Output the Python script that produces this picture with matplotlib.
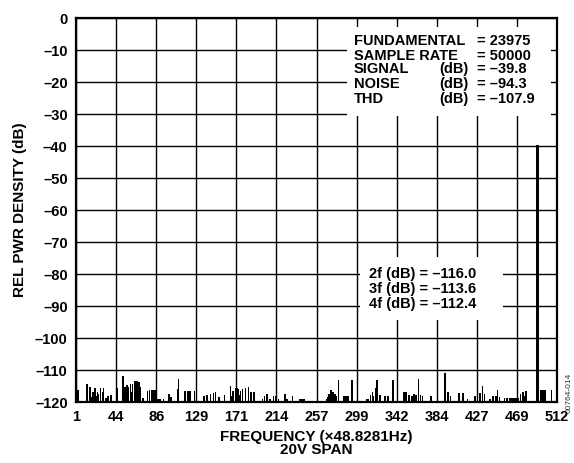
import numpy as np
import matplotlib
matplotlib.use("Agg")
import matplotlib.pyplot as plt
from matplotlib.patches import Rectangle

plt.rcParams["font.family"] = ["Liberation Sans", "DejaVu Sans"]
plt.rcParams["font.weight"] = "bold"

# FFT bins (x48.8281 Hz) and level in dB of the noise floor spurs
noise_bins = [3, 12, 13, 16, 17, 19, 21, 22, 24, 25, 27, 29, 30, 33, 35, 38, 45,
              51, 52, 53, 55, 57, 59, 60, 61, 63, 64, 66, 68, 69, 72, 77, 79, 81,
              83, 85, 88, 90, 94, 100, 102, 109, 110, 117, 120, 122, 127, 137, 140,
              144, 147, 149, 153, 159, 165, 166, 168, 171, 172, 173, 175, 176, 178,
              181, 184, 187, 190, 199, 201, 204, 207, 211, 213, 216, 223, 225, 231,
              239, 240, 241, 242, 243, 244, 267, 268, 270, 272, 274, 276, 277, 280,
              285, 286, 288, 290, 294, 310, 312, 314, 316, 317, 319, 321, 324, 329,
              330, 332, 333, 338, 349, 350, 351, 352, 355, 358, 360, 362, 365, 367,
              369, 378, 393, 396, 399, 408, 412, 417, 425, 430, 433, 435, 441, 444,
              447, 449, 451, 456, 459, 462, 463, 464, 465, 466, 467, 468, 469, 470,
              471, 473, 476, 477, 479, 495, 496, 497, 498, 499, 506]
noise_db = [-116.3, -114.5, -114.5, -115.2, -118.5, -116.8, -115.7, -118.0, -116.8,
            -117.5, -115.7, -116.8, -115.5, -118.6, -118.2, -117.8, -115.7,
            -111.8, -118.0, -115.2, -114.7, -115.2, -114.5, -117.0, -114.5, -113.4,
            -113.4, -113.4, -113.6, -115.2, -118.8, -116.6, -116.2, -116.2,
            -116.2, -116.2, -118.9, -118.9, -118.9, -117.5, -118.3, -116.0, -112.8,
            -116.6, -116.6, -116.6, -116.6, -118.0, -117.8,
            -117.6, -117.3, -116.8, -118.3, -117.8, -115.0, -118.2, -116.6, -115.7,
            -115.5, -116.0, -117.8, -116.6, -116.0,
            -115.7, -115.3, -116.8, -117.0, -118.9, -118.0, -117.5, -118.9, -118.0,
            -118.0, -118.9, -117.5, -118.9, -118.0,
            -119.1, -119.1, -119.1, -119.1, -119.1, -119.1, -119.1, -118.5, -117.6,
            -116.3, -117.0, -117.6, -118.0, -113.1,
            -118.0, -118.0, -118.0, -118.0, -113.1, -118.9, -118.9, -117.8, -116.8,
            -118.0, -115.7, -113.1, -117.8, -118.0,
            -118.0, -118.0, -118.0, -113.1, -116.8, -116.8, -116.8, -116.8, -117.8,
            -118.0, -117.6, -117.8, -112.8, -117.8,
            -118.0, -118.0, -110.8, -116.8, -118.0, -117.3, -117.3, -119.1, -118.0,
            -117.3, -115.1, -117.6, -119.1, -118.0,
            -118.0, -116.3, -118.4, -118.7, -118.7, -118.7, -118.7, -118.7, -118.7,
            -118.7, -118.7, -118.7, -118.7, -118.7,
            -118.7, -117.6, -116.8, -118.0, -116.6, -116.3, -116.3, -116.3, -116.3,
            -116.3, -116.3]

fund_bin = 491
fund_db = -39.8

x_labels = ["1", "44", "86", "129", "171", "214", "257", "299", "342", "384",
            "427", "469", "512"]
y_values = list(range(0, -130, -10))
y_labels = ["0"] + [f"\u2013{abs(v)}" for v in y_values[1:]]

info_left = ["FUNDAMENTAL", "SAMPLE RATE", "SIGNAL", "NOISE", "THD"]
info_mid = ["", "", "(dB)", "(dB)", "(dB)"]
info_right = ["= 23975", "= 50000", "= \u201339.8", "= \u201394.3", "= \u2013107.9"]
harm_lines = ["2f (dB) = \u2013116.0", "3f (dB) = \u2013113.6", "4f (dB) = \u2013112.4"]

floor = -120

fig = plt.figure(figsize=(5.74, 4.63), dpi=100)
ax = fig.add_axes([0.1324, 0.1317, 0.838, 0.8294])

ax.bar(noise_bins, np.array(noise_db) - floor, bottom=floor, width=1.6,
       color="black", zorder=2)
ax.bar([fund_bin], [fund_db - floor], bottom=floor, width=2.8,
       color="black", zorder=2)

ax.set_xlim(1, 512)
ax.set_ylim(-120, 0)
ax.set_xticks(np.linspace(1, 512, len(x_labels)))
ax.set_xticklabels(x_labels)
ax.set_yticks(y_values)
ax.set_yticklabels(y_labels)
ax.tick_params(length=0, labelsize=10.5, pad=6)
for lab in ax.get_xticklabels() + ax.get_yticklabels():
    lab.set_fontweight("bold")

ax.set_axisbelow(True)
ax.grid(True, color="black", linewidth=1.0)
for sp in ax.spines.values():
    sp.set_linewidth(1.6)

ax.set_xlabel("FREQUENCY (\u00d748.8281Hz)\n20V SPAN", fontsize=11,
              fontweight="bold", labelpad=4, linespacing=0.95)
ax.set_ylabel("REL PWR DENSITY (dB)", fontsize=11, fontweight="bold",
              labelpad=6)

# white boxes hiding the grid behind the annotations
ax.add_patch(Rectangle((0.563, 0.745), 0.425, 0.232, transform=ax.transAxes,
                       facecolor="white", edgecolor="none", zorder=3))
ax.add_patch(Rectangle((0.590, 0.2135), 0.298, 0.1645, transform=ax.transAxes,
                       facecolor="white", edgecolor="none", zorder=3))

ys = [0.939, 0.902, 0.866, 0.829, 0.790]
for y, a, b, c in zip(ys, info_left, info_mid, info_right):
    ax.text(0.578, y, a, transform=ax.transAxes, fontsize=10.5,
            fontweight="bold", va="center", zorder=4)
    ax.text(0.755, y, b, transform=ax.transAxes, fontsize=10.5,
            fontweight="bold", va="center", zorder=4)
    ax.text(0.834, y, c, transform=ax.transAxes, fontsize=10.5,
            fontweight="bold", va="center", zorder=4)

for y, s in zip([0.334, 0.294, 0.254], harm_lines):
    ax.text(0.610, y, s, transform=ax.transAxes, fontsize=10.5,
            fontweight="bold", va="center", zorder=4)

fig.text(0.991, 0.151, "00764-014", rotation=90, fontsize=6,
         fontweight="normal", ha="center", va="center", color="#333333")

fig.savefig("out.png", dpi=100)
